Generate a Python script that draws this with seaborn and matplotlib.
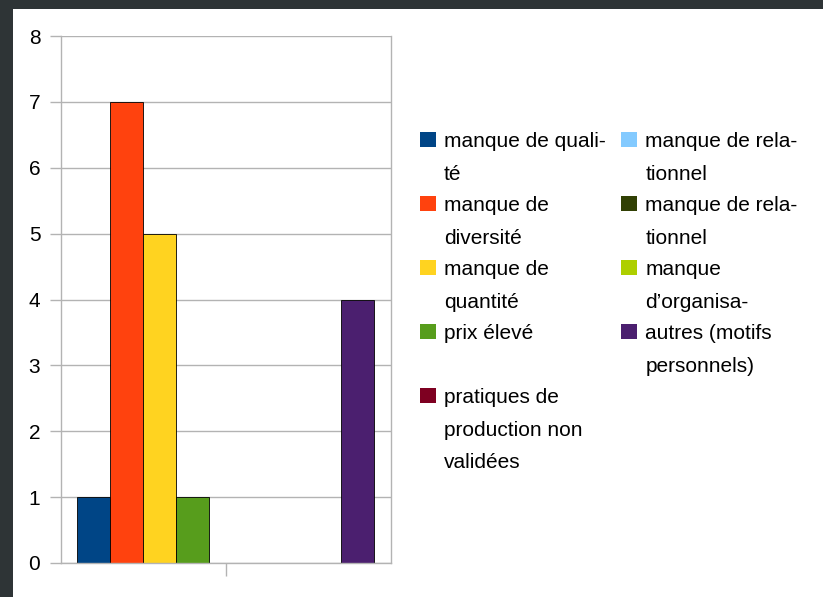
import matplotlib
matplotlib.use("Agg")
import matplotlib.pyplot as plt
from matplotlib.patches import Rectangle
import seaborn as sns
import pandas as pd

# data
categories = ["manque de qualité", "manque de diversité", "manque de quantité",
              "prix élevé", "pratiques de production non validées",
              "manque de relationnel", "manque de relationnel",
              "manque d'organisation", "autres (motifs personnels)"]
legend_labels = ["manque de quali-\nté", "manque de\ndiversité", "manque de\nquantité",
                 "prix élevé\n ", "pratiques de\nproduction non\nvalidées",
                 "manque de rela-\ntionnel", "manque de rela-\ntionnel",
                 "manque\nd’organisa-", "autres (motifs\npersonnels)"]
values = [1, 7, 5, 1, 0, 0, 0, 0, 4]
colors = ["#004586", "#ff420e", "#ffd320", "#579d1c", "#7e0021",
          "#83caff", "#314004", "#aecf00", "#4b1f6f"]

sns.set_style("white")
plt.rcParams['font.family'] = ['Liberation Sans', 'DejaVu Sans']
plt.rcParams['text.color'] = 'black'

df = pd.DataFrame({"grp": [""] * len(values),
                   "cat": [str(i) for i in range(len(values))],
                   "val": values})

fig = plt.figure(figsize=(8.23, 5.97), dpi=100, facecolor="#2e3436")
# white page inside the dark frame
fig.patches.append(Rectangle((13 / 823, 0), 1 - 13 / 823, 1 - 9 / 597,
                             transform=fig.transFigure, facecolor="white",
                             edgecolor="none", zorder=-5))
ax = fig.add_axes([60.5 / 823, 34 / 597, 330.5 / 823, 527 / 597])
ax.set_facecolor("white")

sns.barplot(data=df, x="grp", y="val", hue="cat", palette=colors, width=0.9,
            edgecolor="black", linewidth=0.6, saturation=1, ax=ax)
for p in ax.patches:
    if p.get_height() == 0:
        p.set_linewidth(0)

ax.set_xlim(-0.5, 0.5)
ax.set_ylim(0, 8)
ax.set_yticks(range(0, 9))
ax.set_xticks([0])
ax.set_xticklabels([""])
ax.set_xlabel("")
ax.set_ylabel("")
ax.yaxis.grid(True, color="#b3b3b3", linewidth=1)
ax.set_axisbelow(True)
for s in ["left", "right", "bottom"]:
    ax.spines[s].set_color("#b3b3b3")
    ax.spines[s].set_linewidth(1)
ax.spines["top"].set_visible(False)
ax.tick_params(axis="y", length=8, width=1, color="#b3b3b3", pad=6.5,
               labelsize=15, labelcolor="black", left=True)
ax.tick_params(axis="x", length=9, width=1, color="#b3b3b3", bottom=True)

handles, _ = ax.get_legend_handles_labels()
leg = ax.legend(handles, legend_labels, ncol=2, loc="upper left",
                bbox_to_anchor=(420 / 823, 1 - 132 / 597),
                bbox_transform=fig.transFigure, frameon=False,
                borderpad=0, borderaxespad=0, handlelength=0.75,
                handleheight=0.75, handletextpad=0.4, columnspacing=0.75,
                labelspacing=0.6, fontsize=15)
for t in leg.get_texts():
    t.set_linespacing(1.9)
    t.set_color("black")
# put the colour squares level with the first text line
for col in leg._legend_handle_box.get_children():
    for row in col.get_children():
        row.align = "top"

fig.savefig("out.png", dpi=100, facecolor=fig.get_facecolor())
